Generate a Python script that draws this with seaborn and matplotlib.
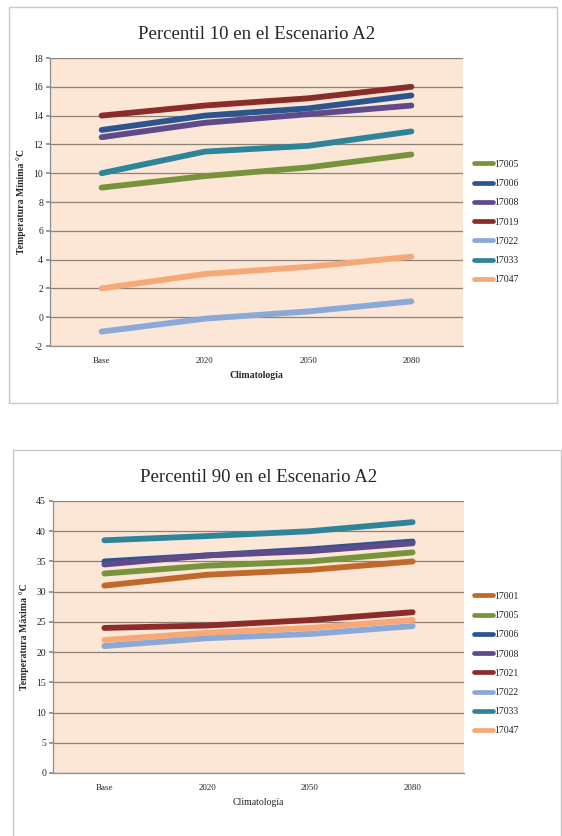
import numpy as np
import pandas as pd
import matplotlib
matplotlib.use('Agg')
import matplotlib.pyplot as plt
import seaborn as sns
from matplotlib.patches import Rectangle

# 数据
periodos = ['Base', '2020', '2050', '2080']

p10_estaciones = ['17005', '17006', '17008', '17019', '17022', '17033', '17047']
p10_17005 = [9.0, 9.8, 10.4, 11.3]
p10_17006 = [13.0, 14.0, 14.5, 15.4]
p10_17008 = [12.5, 13.5, 14.1, 14.7]
p10_17019 = [14.0, 14.7, 15.2, 16.0]
p10_17022 = [-1.0, -0.1, 0.4, 1.1]
p10_17033 = [10.0, 11.5, 11.9, 12.9]
p10_17047 = [2.0, 3.0, 3.5, 4.2]

p90_estaciones = ['17001', '17005', '17006', '17008', '17021', '17022', '17033', '17047']
p90_17001 = [31.0, 32.8, 33.6, 35.0]
p90_17005 = [33.0, 34.3, 35.0, 36.5]
p90_17006 = [35.0, 36.0, 37.0, 38.3]
p90_17008 = [34.5, 36.0, 36.7, 38.0]
p90_17021 = [24.0, 24.4, 25.3, 26.6]
p90_17022 = [21.0, 22.3, 23.0, 24.3]
p90_17033 = [38.5, 39.2, 40.0, 41.5]
p90_17047 = [22.0, 23.2, 24.0, 25.3]

colores = {
    '17001': '#C0692A',
    '17005': '#77933C',
    '17006': '#2C5590',
    '17008': '#5F4A8B',
    '17019': '#8B2C2A',
    '17021': '#8B2C2A',
    '17022': '#8AA8D8',
    '17033': '#2E8499',
    '17047': '#F5A878',
}

sns.set_theme(style='white')
plt.rcParams['font.family'] = ['Liberation Serif', 'DejaVu Serif']
plt.rcParams['axes.unicode_minus'] = False


def armar_df(estaciones, series):
    filas = []
    for est, vals in zip(estaciones, series):
        for per, v in zip(periodos, vals):
            filas.append({'Periodo': per, 'Estacion': est, 'Valor': v})
    return pd.DataFrame(filas)


df10 = armar_df(p10_estaciones, [p10_17005, p10_17006, p10_17008, p10_17019,
                                 p10_17022, p10_17033, p10_17047])
df90 = armar_df(p90_estaciones, [p90_17001, p90_17005, p90_17006, p90_17008,
                                 p90_17021, p90_17022, p90_17033, p90_17047])

W, H = 562, 836
fig = plt.figure(figsize=(W / 100, H / 100), dpi=100)


def px(x0, y0, x1, y1):
    return [x0 / W, 1 - y1 / H, (x1 - x0) / W, (y1 - y0) / H]


# marcos exteriores
for (x0, y0, x1, y1) in [(9, 7, 557, 403), (13, 450, 561, 840)]:
    fig.patches.append(Rectangle((x0 / W, 1 - y1 / H), (x1 - x0) / W, (y1 - y0) / H,
                                 transform=fig.transFigure, fill=False,
                                 edgecolor='#C8C8C8', linewidth=1.0))


def dibujar(ax, df, estaciones, ylim, paso, titulo, ylabel, leg_y, xlabel_bold):
    ax.set_facecolor('#FCE6D6')
    sns.lineplot(data=df, x='Periodo', y='Valor', hue='Estacion', hue_order=estaciones,
                 palette=colores, linewidth=4.2, solid_capstyle='round', ax=ax,
                 legend=True)
    ax.set_xlim(-0.5, 3.5)
    ax.set_ylim(*ylim)
    ax.set_yticks(np.arange(ylim[0], ylim[1] + 0.1, paso))
    ax.yaxis.grid(True, color='#8C8178', linewidth=0.9)
    ax.set_axisbelow(True)
    for s in ['top', 'right']:
        ax.spines[s].set_visible(False)
    for s in ['left', 'bottom']:
        ax.spines[s].set_color('#8C8C8C')
        ax.spines[s].set_linewidth(0.9)
    ax.set_xticks(range(len(periodos)))
    ax.set_xticklabels(periodos)
    ax.set_xticks([0.5, 1.5, 2.5, 3.5], minor=True)
    ax.tick_params(axis='x', which='major', length=0, labelsize=6.5, pad=8)
    ax.tick_params(axis='x', which='minor', length=4, color='#8C8C8C', direction='out')
    ax.tick_params(axis='y', length=3, color='#8C8C8C', labelsize=7, pad=2, left=True)
    ax.set_xlabel('Climatología', fontsize=7,
                  fontweight='bold' if xlabel_bold else 'normal', labelpad=4)
    ax.set_ylabel(ylabel, fontsize=7, fontweight='bold', labelpad=5)
    ax.set_title(titulo, fontsize=13.5, pad=14)
    handles, labels = ax.get_legend_handles_labels()
    ax.get_legend().remove()
    leg = fig.legend(handles, labels, loc='upper left',
                     bbox_to_anchor=(470 / W, 1 - leg_y / H),
                     frameon=False, fontsize=7, handlelength=2.0,
                     handletextpad=0.05, labelspacing=1.05, borderaxespad=0)
    for l in leg.get_lines():
        l.set_linewidth(3.4)


ax1 = fig.add_axes(px(50, 58, 463, 346))
dibujar(ax1, df10, p10_estaciones, (-2, 18), 2, 'Percentil 10 en el Escenario A2',
        'Temperatura Mínima °C', 156, True)

ax2 = fig.add_axes(px(53, 501, 464, 773))
dibujar(ax2, df90, p90_estaciones, (0, 45), 5, 'Percentil 90 en el Escenario A2',
        'Temperatura Máxima °C', 588, False)

plt.savefig('out.png', dpi=100)
plt.close()
